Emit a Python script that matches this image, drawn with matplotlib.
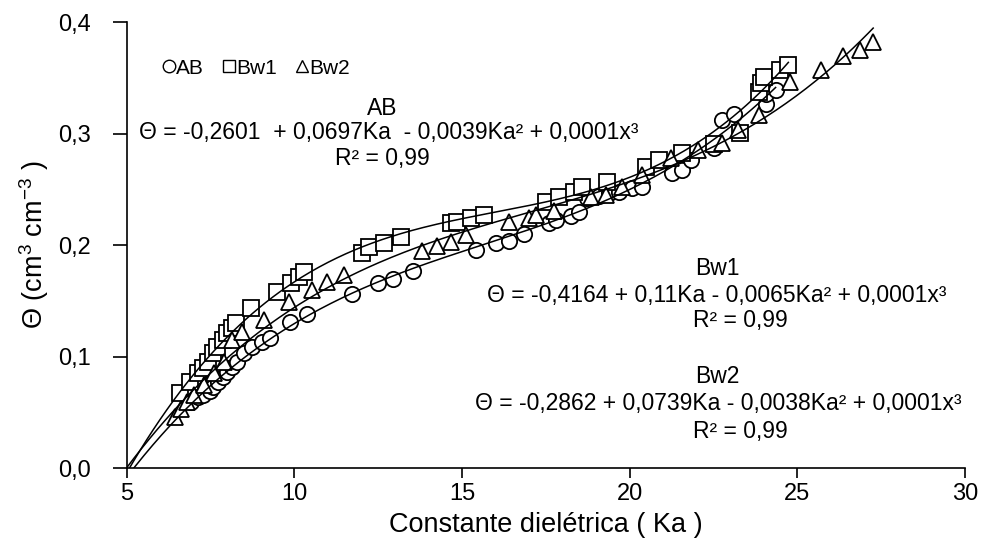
import numpy as np
import matplotlib
matplotlib.use("Agg")
import matplotlib.pyplot as plt
from matplotlib.ticker import FuncFormatter
from matplotlib.lines import Line2D

plt.rcParams['font.family'] = ['Liberation Sans', 'DejaVu Sans']
plt.rcParams['mathtext.fontset'] = 'custom'
plt.rcParams['mathtext.rm'] = 'Liberation Sans'
plt.rcParams['mathtext.it'] = 'Liberation Sans'

# AB (circulos)
ab_x = [6.93, 7.11, 7.26, 7.47, 7.56, 7.71, 7.86, 8.00, 8.15, 8.30, 8.51, 8.75, 9.02, 9.26,
        9.88, 10.39, 11.73, 12.50, 12.95, 13.54, 15.42, 16.00, 16.40, 16.85, 17.59, 17.80,
        18.24, 18.48, 18.72, 19.08, 19.38, 19.67, 20.06, 20.36, 21.25, 21.55, 21.82, 22.50,
        22.74, 23.10, 24.05, 24.05, 24.35]
ab_y = [0.059, 0.064, 0.066, 0.069, 0.073, 0.077, 0.082, 0.086, 0.091, 0.095, 0.103, 0.109,
        0.113, 0.117, 0.131, 0.138, 0.156, 0.166, 0.170, 0.177, 0.196, 0.202, 0.204, 0.210,
        0.220, 0.223, 0.226, 0.230, 0.242, 0.244, 0.247, 0.248, 0.251, 0.252, 0.265, 0.267,
        0.276, 0.287, 0.312, 0.318, 0.327, 0.336, 0.339]

# Bw1 (quadrados)
bw1_x = [6.58, 6.88, 7.11, 7.26, 7.41, 7.56, 7.68, 7.86, 8.00, 8.15, 8.27, 8.72, 9.49, 9.91,
         10.15, 10.30, 12.02, 12.23, 12.68, 13.18, 14.67, 14.85, 15.27, 15.65, 17.50, 17.89,
         18.33, 18.57, 19.32, 20.48, 20.86, 21.55, 22.50, 23.30, 23.84, 23.90, 23.99, 24.49,
         24.73]
bw1_y = [0.067, 0.077, 0.085, 0.090, 0.095, 0.103, 0.109, 0.115, 0.121, 0.126, 0.130, 0.144,
         0.158, 0.166, 0.171, 0.176, 0.193, 0.198, 0.202, 0.207, 0.220, 0.221, 0.224, 0.227,
         0.239, 0.243, 0.248, 0.252, 0.257, 0.270, 0.276, 0.283, 0.291, 0.301, 0.337, 0.345,
         0.351, 0.357, 0.362]

# Bw2 (triangulos)
bw2_x = [6.43, 6.61, 6.79, 7.00, 7.30, 7.60, 7.90, 8.15, 8.45, 9.10, 9.85, 10.51, 10.98, 11.49,
         13.81, 14.26, 14.67, 15.12, 16.40, 17.00, 17.20, 17.74, 18.84, 19.29, 19.76, 20.36,
         21.22, 22.05, 22.74, 23.24, 23.84, 24.79, 25.71, 26.37, 26.88, 27.26]
bw2_y = [0.046, 0.053, 0.059, 0.066, 0.075, 0.085, 0.095, 0.115, 0.122, 0.133, 0.149, 0.160,
         0.167, 0.173, 0.195, 0.199, 0.203, 0.209, 0.221, 0.224, 0.227, 0.231, 0.243, 0.245,
         0.252, 0.263, 0.278, 0.285, 0.292, 0.303, 0.317, 0.346, 0.357, 0.370, 0.375, 0.382]

series = [
    ('AB', ab_x, ab_y, 'o', 11),
    ('Bw1', bw1_x, bw1_y, 's', 11),
    ('Bw2', bw2_x, bw2_y, '^', 12),
]

fig = plt.figure(figsize=(9.98, 5.54), dpi=100)
ax = fig.add_axes([0.127, 0.155, 0.840, 0.805])

for name, xs, ys, mk, ms in series:
    ax.plot(xs, ys, linestyle='none', marker=mk, markersize=ms, markerfacecolor='white',
            markeredgecolor='black', markeredgewidth=1.3, zorder=3)
    # linha de tendencia polinomial (ordem 3)
    coef = np.polyfit(xs, ys, 3)
    xx = np.linspace(5.0, max(xs), 300)
    ax.plot(xx, np.polyval(coef, xx), color='black', linewidth=1.1, zorder=4)

ax.set_xlim(5, 30)
ax.set_ylim(0, 0.4)
ax.set_xticks([5, 10, 15, 20, 25, 30])
ax.set_yticks([0, 0.1, 0.2, 0.3, 0.4])
ax.yaxis.set_major_formatter(FuncFormatter(lambda v, p: f'{v:.1f}'.replace('.', ',')))
ax.spines['top'].set_visible(False)
ax.spines['right'].set_visible(False)
ax.spines['left'].set_linewidth(1.2)
ax.spines['bottom'].set_linewidth(1.2)
ax.tick_params(direction='out', width=1.2, labelsize=17)
ax.tick_params(axis='y', length=10, pad=16)
ax.tick_params(axis='x', length=7, pad=4)
ax.set_xlabel('Constante dielétrica ( Ka )', fontsize=19.5, labelpad=5)
ax.set_ylabel(r'$\Theta$ (cm$^3$ cm$^{-3}$ )', fontsize=19.5, labelpad=5)

handles = [Line2D([], [], linestyle='none', marker=m, markersize=9, markerfacecolor='white',
                  markeredgecolor='black', markeredgewidth=1.0) for _, _, _, m, _ in series]
ax.legend(handles, [s[0] for s in series], loc='upper left', bbox_to_anchor=(0.02, 0.96),
          ncol=3, frameon=False, fontsize=15, handlelength=0.6, handletextpad=0.05,
          columnspacing=0.9)

fs = 16.5
ax.text(12.62, 0.323, 'AB', ha='center', va='center', fontsize=fs)
ax.text(12.8, 0.301, 'Θ = -0,2601  + 0,0697Ka  - 0,0039Ka² + 0,0001x³', ha='center', va='center', fontsize=fs)
ax.text(12.62, 0.278, 'R² = 0,99', ha='center', va='center', fontsize=fs)

ax.text(22.6, 0.179, 'Bw1', ha='center', va='center', fontsize=fs)
ax.text(22.6, 0.155, 'Θ = -0,4164 + 0,11Ka - 0,0065Ka² + 0,0001x³', ha='center', va='center', fontsize=fs)
ax.text(23.3, 0.132, 'R² = 0,99', ha='center', va='center', fontsize=fs)

ax.text(22.6, 0.082, 'Bw2', ha='center', va='center', fontsize=fs)
ax.text(22.65, 0.058, 'Θ = -0,2862 + 0,0739Ka - 0,0038Ka² + 0,0001x³', ha='center', va='center', fontsize=fs)
ax.text(23.3, 0.033, 'R² = 0,99', ha='center', va='center', fontsize=fs)

fig.savefig('out.png', dpi=100)
